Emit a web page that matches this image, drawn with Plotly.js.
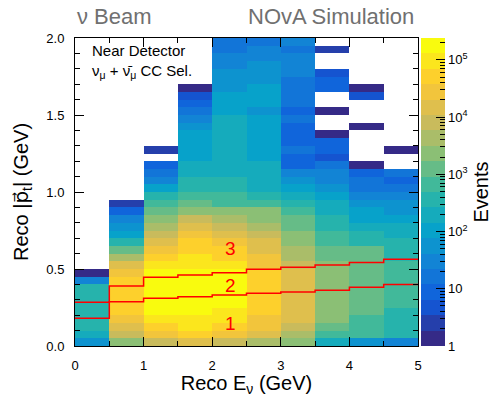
<!DOCTYPE html>
<html><head><meta charset="utf-8">
<script src="https://cdn.plot.ly/plotly-3.0.1.min.js"></script>
<style>html,body{margin:0;padding:0;background:#fff}#chart{width:504px;height:397px}</style>
</head><body><div id="chart"></div>
<script>
// Bin centres (GeV)
const xBins = [0.25, 0.75, 1.25, 1.75, 2.25, 2.75, 3.25, 3.75, 4.25, 4.75];
const yBinWidth = 0.05;
const nYBins = 40;
const _ = null;

// Event counts per x bin, from y = 0 upward (40 bins of 0.05 GeV)
const col0 = [60,190,330,380,400,380,350,300,30,1, _,_,_,_,_,_,_,_,_,_, _,_,_,_,_,_,_,_,_,_, _,_,_,_,_,_,_,_,_,_];
const col1 = [2300,9000,18000,28000,42000,50000,55000,55000,50000,28000, 11000,4000,1200,360,130,70,30,9,3,_, _,_,_,_,_,_,_,_,_,_, _,_,_,_,_,_,_,_,_,_];
const col2 = [6000,30000,60000,100000,150000,170000,180000,180000,170000,150000, 90000,50000,27000,14000,7000,3500,2000,1000,550,300, 110,30,15,7,_,2,_,_,_,_, _,_,_,_,_,_,_,_,_,_];
const col3 = [12000,40000,70000,110000,170000,200000,210000,200000,190000,160000, 120000,90000,55000,40000,25000,14000,7500,3000,1500,700, 400,300,250,200,130,120,110,100,55,25, 22,9,4,1.5,_,_,_,_,_,_];
const col4 = [8000,30000,50000,80000,110000,140000,150000,150000,140000,130000, 100000,60000,50000,35000,20000,9000,4000,2500,900,500, 350,300,230,210,200,190,180,170,160,150, 100,120,100,70,50,70,30,28,18,16];
const col5 = [4000,12000,22000,35000,50000,60000,65000,65000,60000,50000, 30000,25000,20000,13000,8000,4500,2500,2000,700,400, 250,220,200,150,130,140,120,130,110,120, 65,110,80,100,60,55,50,32,28,16];
const col6 = [2000,5000,9000,14000,18000,20000,20000,20000,18000,15000, 9000,5000,4000,3000,2000,1200,1000,550,400,250, 130,60,30,9,9,15,9,9,9,15, 9,22,15,12,15,28,28,28,16,28];
const col7 = [220,700,1200,1800,2200,2500,2600,2600,2500,2300, 2000,1600,1200,900,650,480,350,250,180,110, 50,30,28,14,4,8,8,1.5,_,_, 1.5,_,_,8,8,4,_,_,3,_];
const col8 = [60,500,650,800,950,1000,1100,1100,1050,1000, 950,950,920,480,330,200,140,110,75,40, 22,14,9,1.5,_,_,_,_,1.5,_, _,_,4,1.5,_,_,_,_,_,_];
const col9 = [30,300,350,400,450,500,550,550,550,520, 500,480,450,330,220,150,100,70,45,25, 20,9,14,_,_,1.5,_,_,_,_, _,_,_,_,_,_,_,_,_,_];
const columns = [col0, col1, col2, col3, col4, col5, col6, col7, col8, col9];

// Quantile boundary lines (|p_t| in GeV per x bin)
const xEdges = [0, 0.5, 1, 1.5, 2, 2.5, 3, 3.5, 4, 4.5, 5];
const boundaryA = [0.284, 0.288, 0.310, 0.320, 0.331, 0.342, 0.351, 0.362, 0.381, 0.400];
const boundaryB = [0.180, 0.390, 0.446, 0.461, 0.476, 0.498, 0.511, 0.526, 0.543, 0.563];

// Colour scale (ROOT kBird) and z range
const zMaxCount = 240000;
const nContours = 20;
const birdStops = [0, 0.125, 0.25, 0.375, 0.5, 0.625, 0.75, 0.875, 1];
const birdR = [0.2082, 0.0592, 0.0780, 0.0232, 0.1802, 0.5301, 0.8186, 0.9956, 0.9764];
const birdG = [0.1664, 0.3599, 0.5041, 0.6419, 0.7178, 0.7492, 0.7328, 0.7862, 0.9832];
const birdB = [0.5293, 0.8684, 0.8385, 0.7914, 0.6425, 0.4662, 0.3499, 0.1968, 0.0539];

function bird(f) {
  let i = 0;
  while (i < birdStops.length - 2 && f > birdStops[i + 1]) i++;
  const t = (f - birdStops[i]) / (birdStops[i + 1] - birdStops[i]);
  const c = a => Math.round(255 * (a[i] + (a[i + 1] - a[i]) * t));
  return `rgb(${c(birdR)},${c(birdG)},${c(birdB)})`;
}
const colorscale = [];
for (let i = 0; i < nContours; i++) {
  const col = bird(i / (nContours - 1));
  colorscale.push([i / nContours, col]);
  colorscale.push([(i + 1) / nContours, col]);
}

const yBins = [];
for (let j = 0; j < nYBins; j++) yBins.push((j + 0.5) * yBinWidth);
const z = [];
for (let j = 0; j < nYBins; j++) {
  z.push(columns.map(c => (c[j] == null ? null : Math.log10(c[j]))));
}
const zmax = Math.log10(zMaxCount);

const majorVals = [0, 1, 2, 3, 4, 5];
const majorText = ['1', '10', '10<sup>2</sup>', '10<sup>3</sup>', '10<sup>4</sup>', '10<sup>5</sup>'];
const minorVals = [];
for (let k = 0; k <= 5; k++) for (let m = 2; m <= 9; m++) {
  const v = Math.log10(m * Math.pow(10, k));
  if (v < zmax) minorVals.push(v);
}

const FONT = 'Liberation Sans, Arial, Helvetica, sans-serif';
const cbBase = {
  x: 1.0087, xanchor: 'left', y: 0.5, yanchor: 'middle', len: 1, lenmode: 'fraction',
  thickness: 24, thicknessmode: 'pixels', xpad: 0, ypad: 0, outlinewidth: 0,
  ticks: 'inside', tickcolor: '#000', tickwidth: 1
};

const heat = {
  type: 'heatmap', x: xBins, y: yBins, z: z, zmin: 0, zmax: zmax,
  colorscale: colorscale, zsmooth: false, hoverinfo: 'skip',
  colorbar: Object.assign({}, cbBase, {
    tickvals: majorVals, ticktext: majorText, ticklen: 9,
    tickfont: {size: 13, color: '#000', family: FONT},
    title: {text: 'Events', side: 'right', font: {size: 20, color: '#000', family: FONT}}
  })
};
const minorBar = {
  type: 'heatmap', x: [-3, -2], y: [-3], z: [[0, zmax]], zmin: 0, zmax: zmax,
  colorscale: [[0, 'rgba(0,0,0,0)'], [1, 'rgba(0,0,0,0)']], hoverinfo: 'skip',
  colorbar: Object.assign({}, cbBase, {
    tickvals: minorVals, showticklabels: false, ticklen: 5
  })
};
function stepTrace(vals) {
  return {
    type: 'scatter', mode: 'lines', x: xEdges, y: vals.concat([vals[vals.length - 1]]),
    line: {shape: 'hv', color: '#ff0000', width: 1.5}, hoverinfo: 'skip', showlegend: false
  };
}

const axisCommon = {
  showline: true, linecolor: '#000', linewidth: 1, mirror: 'allticks',
  ticks: 'inside', tickcolor: '#000', ticklen: 9, tickwidth: 1,
  showgrid: false, zeroline: false, ticklabelstandoff: 7,
  tickfont: {size: 13, color: '#000', family: FONT}
};

const layout = {
  width: 504, height: 397,
  margin: {l: 75, r: 84, t: 38, b: 51},
  paper_bgcolor: '#fff', plot_bgcolor: '#fff',
  font: {family: FONT, color: '#000'},
  showlegend: false,
  xaxis: Object.assign({}, axisCommon, {
    range: [0, 5], tick0: 0, dtick: 1,
    minor: {dtick: 0.5, ticks: 'inside', ticklen: 5, tickcolor: '#000', showgrid: false},
    title: {text: 'Reco E<sub>ν</sub> (GeV)', font: {size: 20, color: '#000', family: FONT}, standoff: 8}
  }),
  yaxis: Object.assign({}, axisCommon, {
    range: [0, 2], tick0: 0, dtick: 0.5, tickformat: '.1f',
    minor: {dtick: 0.1, ticks: 'inside', ticklen: 5, tickcolor: '#000', showgrid: false},
    title: {text: 'Reco |<span style="font-family:DejaVu Sans">p\u20D7</span><sub>t</sub>| (GeV)',
            font: {size: 20, color: '#000', family: FONT}, standoff: 12}
  }),
  annotations: [
    {xref: 'paper', yref: 'paper', x: 0, y: 1.071, xanchor: 'left', yanchor: 'middle', showarrow: false,
     text: 'ν Beam', font: {size: 22, color: '#707070', family: FONT}},
    {xref: 'paper', yref: 'paper', x: 0.993, y: 1.071, xanchor: 'right', yanchor: 'middle', showarrow: false,
     text: 'NOvA Simulation', font: {size: 22, color: '#707070', family: FONT}},
    {xref: 'paper', yref: 'paper', x: 0.044, y: 0.958, xanchor: 'left', yanchor: 'middle', showarrow: false,
     text: 'Near Detector', font: {size: 15, color: '#000', family: FONT}},
    {xref: 'paper', yref: 'paper', x: 0.044, y: 0.89, xanchor: 'left', yanchor: 'middle', showarrow: false,
     text: 'ν<sub>μ</sub> + ν\u0304<sub>μ</sub> CC Sel.', font: {size: 15, color: '#000', family: FONT}},
    {x: 2.26, y: 0.149, xref: 'x', yref: 'y', showarrow: false, text: '1', font: {size: 19, color: '#ff0000', family: FONT}},
    {x: 2.26, y: 0.392, xref: 'x', yref: 'y', showarrow: false, text: '2', font: {size: 19, color: '#ff0000', family: FONT}},
    {x: 2.26, y: 0.636, xref: 'x', yref: 'y', showarrow: false, text: '3', font: {size: 19, color: '#ff0000', family: FONT}}
  ]
};

Plotly.newPlot('chart', [heat, minorBar, stepTrace(boundaryA), stepTrace(boundaryB)], layout,
  {displayModeBar: false, staticPlot: true});
</script></body></html>
